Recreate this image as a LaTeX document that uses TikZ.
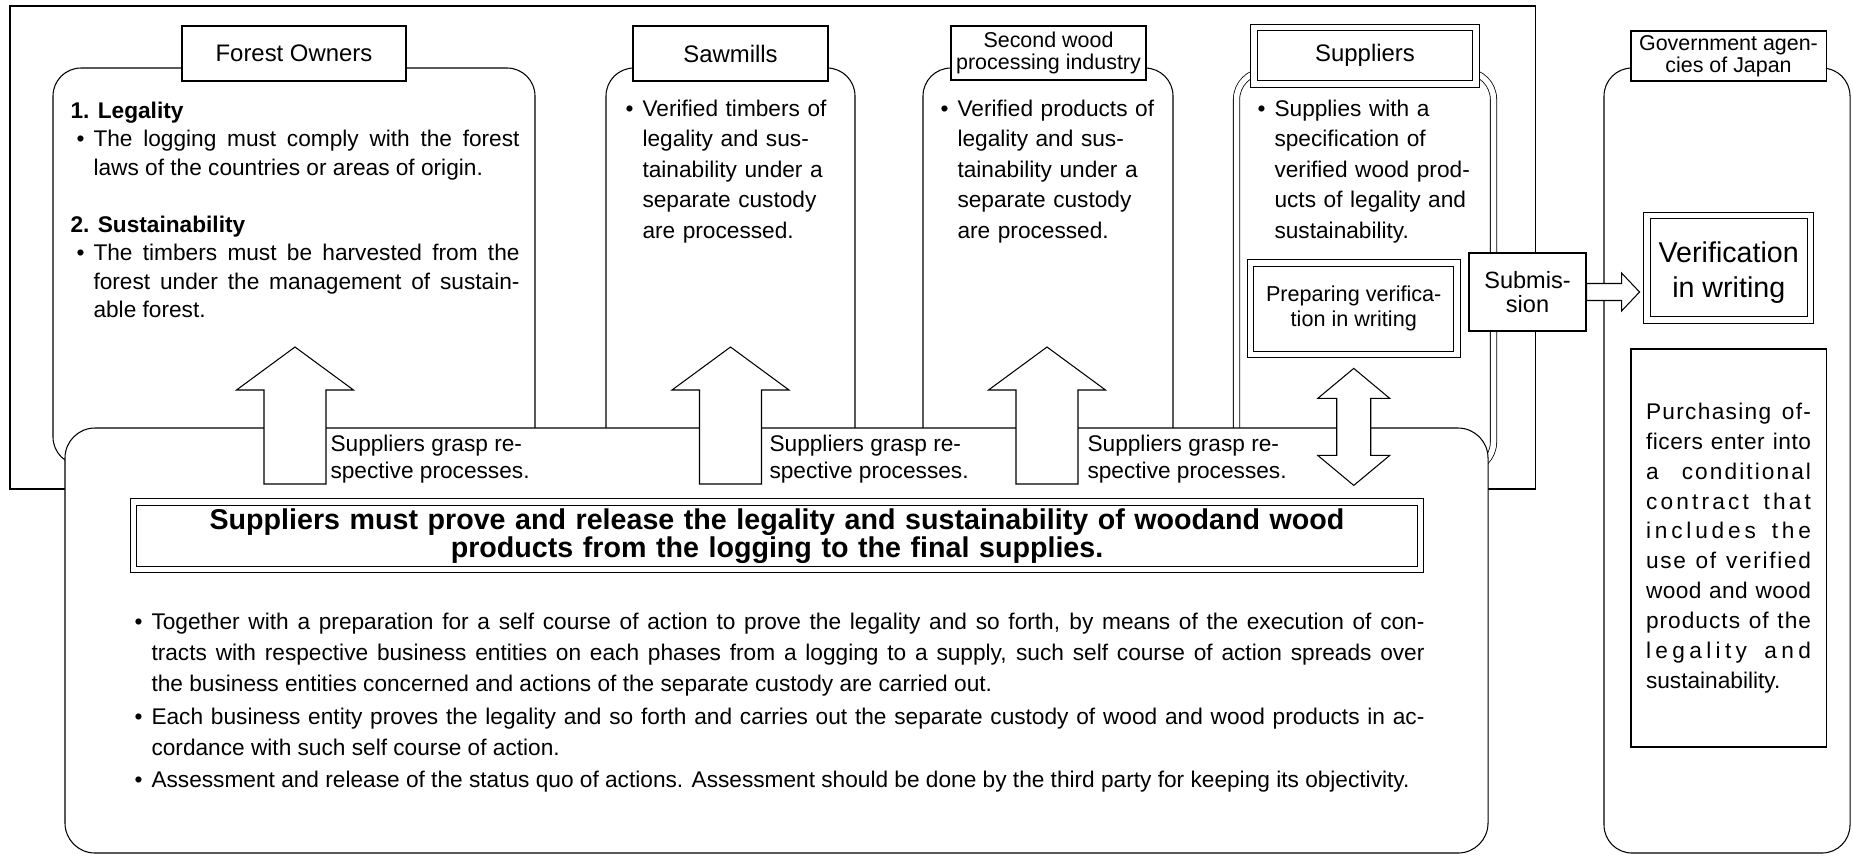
\documentclass[tikz,border=0pt]{standalone}
\usepackage{fontspec}
\setmainfont{Liberation Sans}
\usetikzlibrary{calc}
\newcommand{\fsz}[2]{\fontsize{#1}{#2}\selectfont}
\newcommand{\itm}[1]{\noindent\hangindent=3.4mm\hangafter=1\makebox[3.4mm][l]{\textbullet}#1\par}
\newcommand{\ls}[2]{{\addfontfeature{LetterSpace=#1}#2}}
\tolerance=10000
\hbadness=10000

\begin{document}
\begin{tikzpicture}[x=0.2mm, y=-0.2mm, line width=0.6pt,
  panel/.style={draw, rounded corners=5.6mm},
  tag/.style={draw, fill=white, align=center, inner sep=0pt, font=\fsz{13.6}{15}},
  dbl/.style={double, double distance=1.1mm, line width=0.45pt},
  txt/.style={anchor=north west, inner sep=0pt, font=\fsz{12.9}{17.35}},
  blockarr/.style={draw, fill=white, line join=miter}]

  \useasboundingbox (0,0) rectangle (1853,858);

  % outer frame and the five panels
  \node[draw, minimum width=305mm, minimum height=96.6mm] (frame) at (772.5,247.5) {};
  \node[panel, minimum width=96.4mm, minimum height=79.4mm] (forest) at (294,266.5) {};
  \node[panel, minimum width=49.8mm, minimum height=79.4mm] (saw) at (730.5,266.5) {};
  \node[panel, minimum width=50mm, minimum height=79.4mm] (second) at (1048,266.5) {};
  \node[panel, dbl, minimum width=51.4mm, minimum height=79.7mm] (supp) at (1365,270.75) {};
  \node[panel, minimum width=49.2mm, minimum height=157mm] (gov) at (1727,460.5) {};

  % titles
  \node[tag, minimum width=44.8mm, minimum height=11mm] (forestT) at (294,53.5) {Forest Owners};
  \node[tag, minimum width=39mm, minimum height=11mm] (sawT) at (730.5,53.5) {Sawmills};
  \node[tag, font=\fsz{12.2}{12.6}, minimum width=39mm, minimum height=10.8mm] (secondT) at (1048.5,53) {Second wood\\processing industry};
  \node[tag, dbl, minimum width=44.4mm, minimum height=11.3mm] (suppT) at (1365,55.75) {Suppliers};
  \node[tag, font=\fsz{12.2}{12.6}, minimum width=39mm, minimum height=10mm] (govT) at (1728.5,56) {Government agen-\\cies of Japan};

  % panel texts
  \node[txt, text width=88.6mm, align=justify, font=\fsz{12.9}{16.2}] (forestX) at (76,101.5) {\noindent\hspace*{-1.2mm}\textbf{1. Legality}\par\itm{The logging must comply with the forest\linebreak laws of the countries or areas of origin.}\vspace{16.2pt}\noindent\hspace*{-1.2mm}\textbf{2. Sustainability}\par\itm{The timbers must be harvested from the\linebreak forest under the management of sustain-\linebreak able forest.}};
  \node[txt, text width=46mm, align=left] (sawX) at (625,99.5) {\itm{Verified timbers of\newline legality and sus-\newline tainability under a\newline separate custody\newline are processed.}};
  \node[txt, text width=46mm, align=left] (secondX) at (940,99.5) {\itm{Verified products of\newline legality and sus-\newline tainability under a\newline separate custody\newline are processed.}};
  \node[txt, text width=46mm, align=left] (suppX) at (1257,99.5) {\itm{Supplies with a\newline specification of\newline verified wood prod-\newline ucts of legality and\newline sustainability.}};
  \node[draw, dbl, fill=white, align=center, inner sep=0pt, minimum width=41.3mm, minimum height=18.3mm, font=\fsz{12.3}{14.2}] (prep) at (1353.75,308.75) {Preparing verifica-\\tion in writing};

  % lower panel
  \node[panel, fill=white, rounded corners=6mm, minimum width=284.6mm, minimum height=85mm] (base) at (776.5,640.5) {};

  \foreach \x/\lx/\n in {295/330/1, 730.5/769/2, 1047/1087/3} {
    \draw[blockarr] (\x-31,484) -- (\x-31,390) -- (\x-58.5,390) -- (\x,347) -- (\x+58.5,390) -- (\x+31,390) -- (\x+31,484) -- cycle;
    \node[txt, font=\fsz{12.9}{15.4}, align=left] (grasp\n) at (\lx,434.5) {Suppliers grasp re-\\spective processes.};
  }
  \draw[blockarr] ([yshift=-2.7mm]prep.south) -- ++(36,30) -- ++(-19,0) -- ++(0,57) -- ++(19,0) -- ++(-36,30)
    -- ++(-36,-30) -- ++(19,0) -- ++(0,-57) -- ++(-19,0) -- cycle;

  \node[draw, dbl, fill=white, minimum width=257.4mm, minimum height=13.5mm, text width=250mm, inner sep=0pt, align=center, font=\bfseries\fsz{16.3}{16}] (claim) at (777,535.75) {Suppliers must prove and release the legality and sustainability of woodand wood\\products from the logging to the final supplies.};

  \node[txt, text width=258mm, align=justify, font=\fsz{12.9}{17.6}] (rules) at (134,612.5) {\itm{Together with a preparation for a self course of action to prove the legality and so forth, by means of the execution of con-\linebreak tracts with respective business entities on each phases from a logging to a supply, such self course of action spreads over\linebreak the business entities concerned and actions of the separate custody are carried out.}\vspace{1.1pt}\itm{Each business entity proves the legality and so forth and carries out the separate custody of wood and wood products in ac-\linebreak cordance with such self course of action.}\vspace{1.1pt}\itm{Assessment and release of the status quo of actions. Assessment should be done by the third party for keeping its objectivity.}};

  % submission to the government side
  \node[draw, fill=white, align=center, inner sep=0pt, minimum width=23.4mm, minimum height=15.6mm, font=\fsz{13.4}{13.8}] (sub) at (1527.5,292) {Submis-\\sion};
  \draw[blockarr] (sub.east) ++(0,-8.5) -- ++(35,0) -- ++(0,-10.5) -- ++(18,19) -- ++(-18,19) -- ++(0,-10.5) -- ++(-35,0) -- cycle;
  \node[draw, dbl, fill=white, align=center, inner sep=0pt, minimum width=32.7mm, minimum height=20.9mm, font=\fsz{16.3}{20}] (verif) at (1728.75,267.75) {\rule{0pt}{17.5pt}Verification\\in writing};
  \node[draw, fill=white, minimum width=39mm, minimum height=79.6mm, text width=33mm, inner sep=0pt, align=justify, font=\fsz{12.9}{17}] (buy) at (1728.5,548) {\noindent\ls{5.8}{Purchasing of-}\linebreak \ls{2.4}{ficers enter into}\linebreak \ls{9.2}{a conditional}\linebreak \ls{14}{contract that}\linebreak \ls{16.8}{includes the}\linebreak \ls{7.5}{use of verified}\linebreak \ls{1.8}{wood and wood}\linebreak \ls{4.5}{products of the}\linebreak \ls{19.2}{legality and}\linebreak sustainability.};

\end{tikzpicture}
\end{document}
